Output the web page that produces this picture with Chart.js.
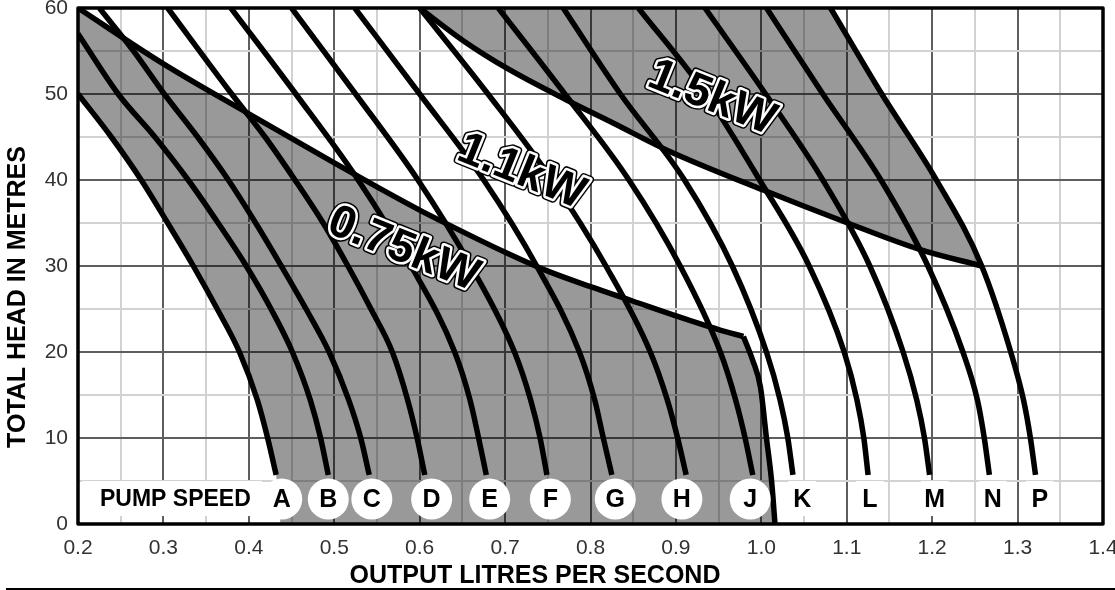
<!DOCTYPE html>
<html>
<head>
<meta charset="utf-8">
<script src="https://cdn.jsdelivr.net/npm/chart.js@4.4.0/dist/chart.umd.min.js"></script>
<style>
  html, body { margin: 0; padding: 0; background: #fff; }
  #grafico { display: block; }
</style>
</head>
<body>
<canvas id="grafico" width="1115" height="590"></canvas>
<script>
// === PUMP SPEED CURVES: [litres per second, head in metres] ===
const curvaA = [[0.2,50],[0.239,45],[0.274,40],[0.305,35],[0.335,30],[0.363,25],[0.389,20],[0.41,14.4],[0.422,10],[0.432,5.7]];
const curvaB = [[0.2,57],[0.247,50],[0.29,45],[0.329,40],[0.364,35],[0.397,30],[0.426,25],[0.451,20],[0.472,14.4],[0.484,10],[0.493,5.7]];
const curvaC = [[0.225,60],[0.265,55],[0.301,50],[0.34,45],[0.376,40],[0.408,35],[0.438,30],[0.467,25],[0.494,20],[0.517,14.4],[0.531,10],[0.541,5.7]];
const curvaD = [[0.305,60],[0.38,50],[0.419,45],[0.454,40],[0.487,35],[0.516,30],[0.543,25],[0.568,20],[0.586,14.4],[0.597,10],[0.606,5.7]];
const curvaE = [[0.379,60],[0.455,50],[0.528,40],[0.59,30],[0.641,20],[0.659,14.4],[0.669,10],[0.678,5.7]];
const curvaF = [[0.45,60],[0.525,50],[0.598,40],[0.66,30],[0.711,20],[0.73,14.4],[0.741,10],[0.749,5.7]];
const curvaG = [[0.524,60],[0.6,50],[0.675,40],[0.737,30],[0.787,20],[0.805,14.4],[0.815,10],[0.825,5.7]];
const curvaH = [[0.6,60],[0.68,50],[0.755,40],[0.818,30],[0.87,20],[0.89,14.4],[0.902,10],[0.912,5.7]];
const curvaJ = [[0.692,60],[0.77,50],[0.845,40],[0.905,30],[0.952,20],[0.97,14.4],[0.981,10],[0.99,5.7]];
const curvaK = [[0.768,60],[0.835,50],[0.91,40],[0.966,30],[1.006,20],[1.022,14.4],[1.031,10],[1.037,5.7]];
const curvaL = [[0.856,60],[0.935,50],[0.998,40],[1.056,30],[1.097,20],[1.112,14.4],[1.12,10],[1.125,5.7]];
const curvaM = [[0.934,60],[1.005,50],[1.072,40],[1.127,30],[1.166,20],[1.182,14.4],[1.191,10],[1.197,5.7]];
const curvaN = [[1.006,60],[1.072,50],[1.14,40],[1.195,30],[1.236,20],[1.253,14.4],[1.261,10],[1.267,5.7]];
const curvaP = [[1.081,60],[1.141,50],[1.205,40],[1.258,30],[1.292,20],[1.307,14.4],[1.315,10],[1.321,5.7]];
const curvas = [curvaA, curvaB, curvaC, curvaD, curvaE, curvaF, curvaG, curvaH, curvaJ, curvaK, curvaL, curvaM, curvaN, curvaP];

// === MOTOR POWER LIMITS ===
const limite075 = [[0.2,60],[0.3,53.5],[0.4,47.7],[0.5,42],[0.55,39.2],[0.6,36.5],[0.65,34],[0.7,31.6],[0.75,29.4],[0.8,27.6],[0.85,25.9],[0.9,24.2],[0.95,22.6],[0.979,21.8]];
const borda075 = [[0.979,21.8],[0.99,19],[0.999,15.9],[1.006,10],[1.012,5],[1.016,0]];
const limite11 = [[0.6,60],[0.651,56.2],[0.702,53],[0.772,49.3],[0.827,46.6],[0.889,43.5],[1.003,38.8],[1.101,35],[1.186,31.9],[1.258,30]];
const base075 = [[0.437,0],[1.016,0]];
const topo15 = [[0.6,60],[1.081,60]];

// === LABELS ===
const letras = ['A','B','C','D','E','F','G','H','J','K','L','M','N','P'];
const letraX = [0.4385,0.493,0.544,0.614,0.682,0.753,0.829,0.907,0.987,1.048,1.127,1.203,1.271,1.326];
const letraY = 2.9;
const comCirculo = 9; // A..J sit in white circles
const kwTexto = ['0.75kW', '1.1kW', '1.5kW'];
const kwX = [0.581, 0.719, 0.942];
const kwY = [31.9, 40.9, 49.5];

const fam = "'Liberation Sans', Arial, Helvetica, sans-serif";
const corMaior = '#5e5e5e';
const corMenor = '#d2d2d2';
const cinza = 'rgba(0,0,0,0.4)';

const pts = arr => arr.map(([x, y]) => ({x, y}));
const ehMaior = (v, passo) => Math.abs(v / passo - Math.round(v / passo)) < 1e-6;

function linha(arr, extra) {
  return Object.assign({
    data: pts(arr), borderColor: '#000', borderWidth: 5.5, pointRadius: 0,
    cubicInterpolationMode: 'monotone', fill: false,
    borderCapStyle: 'butt', borderJoinStyle: 'round'
  }, extra || {});
}
const invisivel = { borderColor: 'rgba(0,0,0,0)', borderWidth: 1, cubicInterpolationMode: 'default', tension: 0 };

const datasets = [
  // 0,1: 0.75kW shaded band (upper edge filled down to lower edge)
  linha(limite075.concat(borda075.slice(1)), Object.assign({}, invisivel, { fill: 1, backgroundColor: cinza })),
  linha(curvaA.concat(base075), invisivel),
  // 2,3: 1.5kW shaded band
  linha(topo15.concat(curvaP.slice(1, 4)), Object.assign({}, invisivel, { fill: 3, backgroundColor: cinza })),
  linha(limite11),
  linha(limite075),
  linha(borda075),
  ...curvas.map(c => linha(c))
];

// === LETTERS, POWER LABELS, TITLES AND FRAME ===
const extras = {
  id: 'extras',
  afterDraw(chart) {
    const {ctx, chartArea: a, scales: {x, y}} = chart;
    ctx.save();
    const py = y.getPixelForValue(letraY);

    // PUMP SPEED caption
    ctx.fillStyle = '#fff';
    ctx.fillRect(a.left + 4, py - 18, 180, 35);
    ctx.fillStyle = '#000';
    ctx.font = 'bold 23px ' + fam;
    ctx.textAlign = 'center';
    ctx.textBaseline = 'middle';
    ctx.fillText('PUMP SPEED', x.getPixelForValue(0.314), py + 1);

    letras.forEach((l, i) => {
      const px = x.getPixelForValue(letraX[i]);
      ctx.fillStyle = '#fff';
      if (i < comCirculo) {
        ctx.beginPath();
        ctx.arc(px, py, 20.5, 0, Math.PI * 2);
        ctx.fill();
      } else {
        ctx.fillRect(px - 14, py - 18, 28, 35);
      }
      ctx.fillStyle = '#000';
      ctx.font = 'bold 25px ' + fam;
      ctx.fillText(l, px, py + 1);
    });

    // motor power labels
    ctx.font = 'bold 46px ' + fam;
    ctx.lineJoin = 'round';
    kwTexto.forEach((t, i) => {
      ctx.save();
      ctx.translate(x.getPixelForValue(kwX[i]), y.getPixelForValue(kwY[i]));
      ctx.rotate(22 * Math.PI / 180);
      ctx.strokeStyle = '#000'; ctx.lineWidth = 8; ctx.strokeText(t, 0, 0);
      ctx.strokeStyle = '#fff'; ctx.lineWidth = 5; ctx.strokeText(t, 0, 0);
      ctx.fillStyle = '#000'; ctx.fillText(t, 0, 0);
      ctx.restore();
    });

    // frame
    ctx.strokeStyle = '#000';
    ctx.lineWidth = 3.5;
    ctx.strokeRect(a.left, a.top, a.right - a.left, a.bottom - a.top);

    // axis titles
    ctx.fillStyle = '#000';
    ctx.font = 'bold 25px ' + fam;
    ctx.fillText('OUTPUT LITRES PER SECOND', 535, 576);
    ctx.save();
    ctx.translate(18, 297);
    ctx.rotate(-Math.PI / 2);
    ctx.fillText('TOTAL HEAD IN METRES', 0, 0);
    ctx.restore();

    // rule under the chart
    ctx.fillRect(6, 588, 1109, 2);
    ctx.restore();
  }
};

Chart.defaults.font.family = fam;

new Chart(document.getElementById('grafico'), {
  type: 'line',
  data: { datasets },
  plugins: [extras],
  options: {
    responsive: false,
    devicePixelRatio: 1,
    animation: false,
    layout: { padding: { top: 8, right: 12, left: 0, bottom: 0 } },
    plugins: {
      legend: { display: false },
      tooltip: { enabled: false }
    },
    scales: {
      x: {
        type: 'linear', min: 0.2, max: 1.4,
        ticks: {
          stepSize: 0.05, autoSkip: false, maxRotation: 0, padding: 12,
          color: '#333', font: { size: 21 },
          callback: v => ehMaior(v, 0.1) ? v.toFixed(1) : ''
        },
        grid: {
          color: c => (c.tick && ehMaior(c.tick.value, 0.1)) ? corMaior : corMenor,
          lineWidth: 2, drawTicks: false
        },
        border: { display: false },
        afterFit: s => { s.height = 66; s.paddingLeft = 0; s.paddingRight = 0; }
      },
      y: {
        type: 'linear', min: 0, max: 60,
        ticks: {
          stepSize: 5, padding: 10, color: '#333', font: { size: 21 },
          callback: v => ehMaior(v, 10) ? String(v) : ''
        },
        grid: {
          color: c => (c.tick && ehMaior(c.tick.value, 10)) ? corMaior : corMenor,
          lineWidth: 2, drawTicks: false
        },
        border: { display: false },
        afterFit: s => { s.width = 78; s.paddingTop = 0; s.paddingBottom = 0; }
      }
    }
  }
});
</script>
</body>
</html>
